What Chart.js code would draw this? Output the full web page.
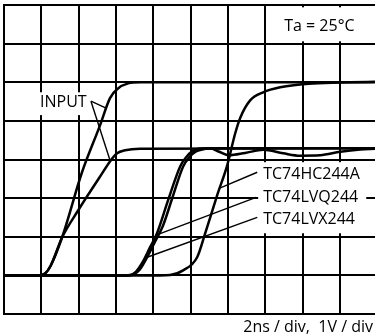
<!DOCTYPE html>
<html lang="en">
<head>
<meta charset="UTF-8" />
<title>Output waveforms – Ta = 25°C</title>
<script src="https://cdn.jsdelivr.net/npm/chart.js"></script>
<style>
  * { margin: 0; padding: 0; }
  body { background: #fff; width: 375px; height: 335px; overflow: hidden; }
  canvas { display: block; }
</style>
</head>
<body>
<canvas id="scope" width="375" height="335"></canvas>
<script>
  // time in ns (2ns/div), level in V (1V/div)
  const input5T = [0, 1.8, 2.2, 2.5, 3.11, 4.18, 5.15, 5.68, 6.11, 6.65, 7.3, 19.9];
  const input5V = [0, 0, 0.05, 0.25, 0.98, 2.67, 3.89, 4.59, 4.84, 4.97, 5.0, 5.0];

  const input3T = [0, 1.8, 2.2, 2.5, 3.11, 3.97, 5.15, 5.68, 6.06, 6.49, 7.29, 19.9];
  const input3V = [0, 0, 0.05, 0.25, 0.98, 1.68, 2.56, 2.95, 3.16, 3.24, 3.28, 3.29];

  const lvqT = [0, 6.49, 6.76, 7.08, 7.45, 7.83, 8.2, 8.79, 9.44, 9.76, 10.08, 10.4, 11.05, 19.9];
  const lvqV = [0, 0, 0.01, 0.1, 0.36, 0.73, 1.09, 1.94, 2.82, 3.06, 3.21, 3.28, 3.29, 3.29];

  const lvxT = [0, 6.7, 6.97, 7.29, 7.67, 8.1, 8.53, 9.01, 9.6, 9.97, 10.29, 10.62, 11.05, 11.53,
                12.06, 12.92, 13.89, 14.96, 15.87, 16.94, 18.02, 19.09, 19.9];
  const lvxV = [0, 0, 0.03, 0.16, 0.47, 0.88, 1.3, 1.99, 2.82, 3.08, 3.21, 3.26, 3.29, 3.2,
                3.11, 3.17, 3.25, 3.16, 3.1, 3.11, 3.2, 3.26, 3.28];

  const hcT = [0, 8.36, 8.9, 9.6, 10.35, 10.78, 11.42, 11.96, 12.39, 12.65, 13.19, 13.89, 14.8, 16.57, 18.55, 19.9];
  const hcV = [0, 0, 0.01, 0.13, 0.47, 1.09, 2.07, 2.85, 3.68, 4.07, 4.53, 4.74, 4.87, 4.97, 5.0, 5.01];

  // leader lines [t, V] pairs
  const leadInput5 = [[4.66, 4.51], [5.47, 4.33]];
  const leadInput3 = [[4.66, 4.51], [5.68, 2.98]];
  const leadHC = [[13.57, 2.67], [11.53, 2.25]];
  const leadLVQ = [[13.51, 2.02], [8.15, 1.04]];
  const leadLVX = [[13.57, 1.5], [7.67, 0.47]];

  const xTicks = [0, 2, 4, 6, 8, 10, 12, 14, 16, 18];
  const yTicks = [-1, 0, 1, 2, 3, 4, 5, 6, 7];

  const pts = (t, v) => t.map((x, i) => ({ x, y: v[i] }));
  const pairs = p => p.map(([x, y]) => ({ x, y }));

  const trace = (label, data) => ({
    label, data,
    borderColor: '#000', borderWidth: 2.5,
    pointRadius: 0, fill: false,
    cubicInterpolationMode: 'monotone'
  });
  const leader = (label, data) => ({
    label, data,
    borderColor: '#000', borderWidth: 1.4,
    pointRadius: 0, fill: false, tension: 0
  });

  // white patches behind labels: [t0, t1, Vtop, Vbottom]
  const boxes = [
    [1.77, 4.56, 4.74, 4.15],
    [13.62, 19.41, 2.93, 1.09],
    [14.16, 20.5, 6.94, 6.06]
  ];
  // labels: [text, t, V, align]
  const texts = [
    ['INPUT', 1.93, 4.48, 'left'],
    ['Ta = 25°C', 16.9, 6.45, 'center'],
    ['TC74HC244A', 13.89, 2.62, 'left'],
    ['TC74LVQ244', 13.89, 2.01, 'left'],
    ['TC74LVX244', 13.89, 1.45, 'left']
  ];
  const caption = '2ns / div,  1V / div';

  const labelPlugin = {
    id: 'scopeLabels',
    beforeDatasetsDraw(chart) {
      const { ctx, scales: { x, y } } = chart;
      ctx.save();
      ctx.fillStyle = '#fff';
      boxes.forEach(b => {
        const x0 = x.getPixelForValue(b[0]), x1 = x.getPixelForValue(b[1]);
        const y0 = y.getPixelForValue(b[2]), y1 = y.getPixelForValue(b[3]);
        ctx.fillRect(x0, y0, x1 - x0, y1 - y0);
      });
      ctx.fillStyle = '#000';
      ctx.font = '16px "Open Sans", sans-serif';
      ctx.textBaseline = 'middle';
      texts.forEach(([s, t, v, a]) => {
        ctx.textAlign = a;
        ctx.fillText(s, x.getPixelForValue(t), y.getPixelForValue(v));
      });
      ctx.textAlign = 'right';
      ctx.fillText(caption, chart.width - 2, chart.chartArea.bottom + 13);
      ctx.restore();
    }
  };

  new Chart(document.getElementById('scope'), {
    type: 'line',
    data: {
      datasets: [
        trace('INPUT 5V', pts(input5T, input5V)),
        trace('INPUT 3.3V', pts(input3T, input3V)),
        trace('TC74LVQ244', pts(lvqT, lvqV)),
        trace('TC74LVX244', pts(lvxT, lvxV)),
        trace('TC74HC244A', pts(hcT, hcV)),
        leader('lead INPUT a', pairs(leadInput5)),
        leader('lead INPUT b', pairs(leadInput3)),
        leader('lead HC', pairs(leadHC)),
        leader('lead LVQ', pairs(leadLVQ)),
        leader('lead LVX', pairs(leadLVX))
      ]
    },
    options: {
      responsive: false,
      animation: false,
      devicePixelRatio: 1,
      layout: { padding: { left: 4, top: 5, right: 0, bottom: 21 } },
      plugins: { legend: { display: false }, tooltip: { enabled: false } },
      scales: {
        x: {
          type: 'linear', min: 0, max: 19.88,
          afterBuildTicks: s => { s.ticks = xTicks.map(value => ({ value })); },
          ticks: { display: false },
          grid: { color: '#000', lineWidth: 2, drawTicks: false },
          border: { display: true, color: '#000', width: 2 }
        },
        y: {
          type: 'linear', min: -1, max: 7,
          afterBuildTicks: s => { s.ticks = yTicks.map(value => ({ value })); },
          ticks: { display: false },
          grid: { color: '#000', lineWidth: 2, drawTicks: false },
          border: { display: true, color: '#000', width: 2 }
        }
      }
    },
    plugins: [labelPlugin]
  });
</script>
</body>
</html>
